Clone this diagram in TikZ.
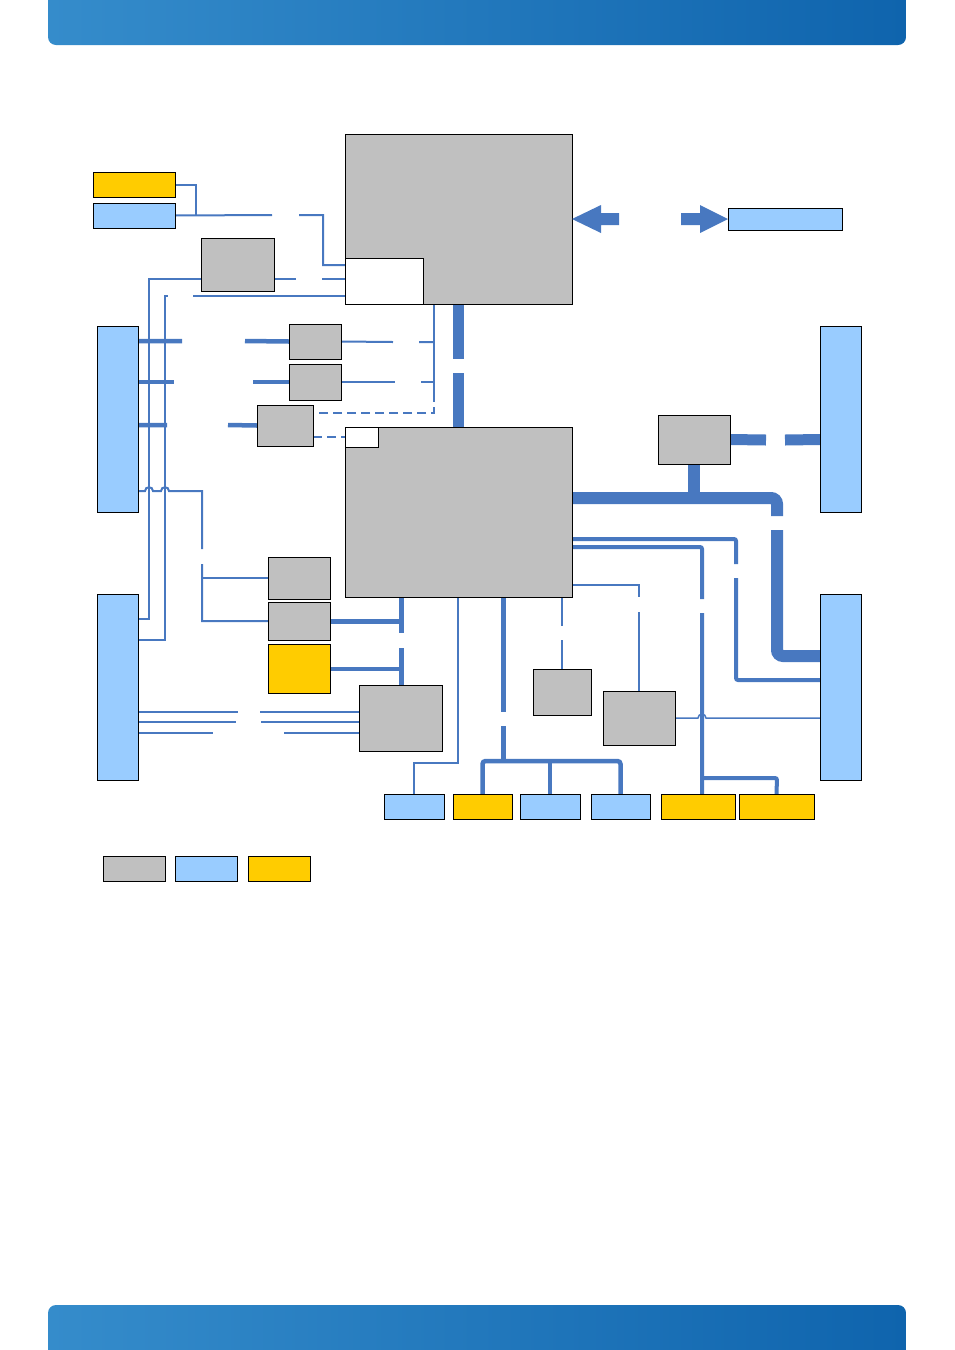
\documentclass[tikz,border=0pt]{standalone}
\usetikzlibrary{backgrounds}
\definecolor{lb}{HTML}{4878C0}
\definecolor{gr}{HTML}{C0C0C0}
\definecolor{sky}{HTML}{99CCFF}
\definecolor{yel}{HTML}{FFCC00}
\definecolor{hdl}{HTML}{358CCB}
\definecolor{hdr}{HTML}{0F64AD}
\newcommand\bx[6]{\node[#2, minimum width={#5pt-#3pt}, minimum height={#6pt-#4pt}] (#1) at (#3,#4) {};}
\tikzset{
  box/.style={draw=black, line width=1pt, inner sep=0pt, outer sep=0pt, anchor=north west},
  gbox/.style={box, fill=gr},
  bbox/.style={box, fill=sky},
  ybox/.style={box, fill=yel},
  wbox/.style={box, fill=white},
  ln/.style={draw=lb, line width=#1},
  ln/.default=2pt,
  dsh/.style={draw=lb, line width=2pt, dash pattern=on 9pt off 5pt},
}
\begin{document}
\begin{tikzpicture}[x=1pt,y=-1pt]
\useasboundingbox (0,0) rectangle (954,1350);
% header / footer bands
\shade[left color=hdl, right color=hdr, rounded corners=8pt] (48,-20) rectangle (906,45);
\shade[left color=hdl, right color=hdr, rounded corners=8pt] (48,1305) rectangle (906,1370);
% boxes
\bx{cpu}{gbox}{345}{134}{572}{304}
\bx{cpuw}{wbox}{345}{258}{423}{304}
\bx{yl}{ybox}{93}{172}{175}{197}
\bx{bl}{bbox}{93}{203}{175}{228}
\bx{ga}{gbox}{201}{238}{274}{291}
\bx{lca}{bbox}{97}{326}{138}{512}
\bx{lcb}{bbox}{97}{594}{138}{780}
\bx{gb}{gbox}{289}{324}{341}{359}
\bx{gc}{gbox}{289}{364}{341}{400}
\bx{gd}{gbox}{257}{405}{313}{446}
\bx{chip}{gbox}{345}{427}{572}{597}
\bx{chipw}{wbox}{345}{427}{378}{447}
\bx{ge}{gbox}{658}{415}{730}{464}
\bx{rca}{bbox}{820}{326}{861}{512}
\bx{rcb}{bbox}{820}{594}{861}{780}
\bx{gf}{gbox}{268}{557}{330}{599}
\bx{gg}{gbox}{268}{602}{330}{640}
\bx{yh}{ybox}{268}{644}{330}{693}
\bx{gi}{gbox}{359}{685}{442}{751}
\bx{gj}{gbox}{533}{669}{591}{715}
\bx{gk}{gbox}{603}{691}{675}{745}
\bx{ba}{bbox}{384}{794}{444}{819}
\bx{ya}{ybox}{453}{794}{512}{819}
\bx{bb}{bbox}{520}{794}{580}{819}
\bx{bc}{bbox}{591}{794}{650}{819}
\bx{yb}{ybox}{661}{794}{735}{819}
\bx{yc}{ybox}{739}{794}{814}{819}
\bx{tr}{bbox}{728}{208}{842}{230}
\bx{lga}{gbox}{103}{856}{165}{881}
\bx{lgb}{bbox}{175}{856}{237}{881}
\bx{lgc}{ybox}{248}{856}{310}{881}
% arrows
\fill[lb] (cpu.east |- 0,219) -- (601,205) -- (601,213) -- (619,213) -- (619,225) -- (601,225) -- (601,233) -- cycle;
\fill[lb] (681,213) -- (700,213) -- (700,205) -- (tr.west |- 0,219) -- (700,233) -- (700,225) -- (681,225) -- cycle;
\begin{scope}[on background layer]
% top-left
\draw[ln] (yl.east) -| (196,215);
\draw[ln] (bl.east) -- (272,215) (299,215) -- (323,215) -- (323,265) -- (cpuw.west |- 0,265);
\draw[ln] (ga.east |- 0,279) -- (296,279) (322,279) -- (cpuw.west |- 0,279);
\draw[ln=2.5pt] (lcb.east |- 0,619) -- (149,619) -- (149,279) -- (ga.west |- 0,279);
\draw[ln=2.5pt] (lcb.east |- 0,640) -- (165,640) -- (165,296) -- (168,296) (193,296) -- (cpuw.west |- 0,296);
% stubs to gb gc gd
\draw[ln=4.5pt] (lca.east |- 0,341) -- (182,341) (245,341) -- (gb.west);
\draw[ln=4.5pt] (lca.east |- 0,382) -- (174,382) (253,382) -- (gc.west);
\draw[ln=4.5pt] (lca.east |- 0,425) -- (167,425) (228,425) -- (gd.west);
\draw[ln] (gb.east) -- (393,342) (419,342) -- (434,342);
\draw[ln] (gc.east) -- (395,382) (421,382) -- (434,382);
\draw[ln] (cpu.south -| 434,0) -- (434,393);
\draw[dsh] (434,393) -- (434,413) -- (gd.east |- 0,413);
\draw[dsh] (gd.east |- chipw.west) -- (chipw.west);
% cpu - chipset
\draw[ln=11pt] (cpu.south -| 458,0) -- (458,359) (458,373) -- (chip.north -| 458,0);
% line with hops
\draw[ln] (lca.east |- 0,491) -- (145,491) .. controls (145,486) and (153,486) .. (153,491) -- (161,491) .. controls (161,486) and (169,486) .. (169,491) -- (202,491) -- (202,549) (202,564) -- (202,621) -- (gg.west |- 0,621);
\draw[ln] (202,578) -- (gf.west);
% lcb to gi
\draw[ln] (lcb.east |- 0,712) -- (238,712) (260,712) -- (gi.west |- 0,712);
\draw[ln] (lcb.east |- 0,722) -- (236,722) (261,722) -- (gi.west |- 0,722);
\draw[ln] (lcb.east |- 0,733) -- (213,733) (284,733) -- (gi.west |- 0,733);
% chip to gg, yh, gi
\draw[ln=5pt] (chip.south -| 401,0) -- (401,633);
\draw[ln=5pt] (gg.east |- 0,621) -- (401,621);
\draw[ln=4.5pt] (yh.east |- 0,669) -- (401,669);
\draw[ln=5pt] (401,648) -- (gi.north -| 401,0);
% thin to ba
\draw[ln=1.5pt] (chip.south -| 458,0) -- (458,763) -- (414,763) -- (ba.north);
% bottom bus
\draw[ln=5pt] (chip.south -| 503,0) -- (503,712) (503,726) -- (503,761);
\draw[ln=4.5pt, rounded corners=3pt] (ya.north) |- (bc.north |- 0,761) -- (bc.north);
\draw[ln=4.5pt] (550,761) -- (bb.north);
% gj, gk
\draw[ln] (chip.south -| 562,0) -- (562,626) (562,640) -- (gj.north);
\draw[ln] (chip.east |- 0,585) -- (639,585) -- (639,597) (639,612) -- (gk.north);
% right side
\draw[ln=4pt, rounded corners=2pt] (chip.east |- 0,547) -- (702,547) -- (702,599) (702,613) -- (yb.north -| 702,0);
\draw[ln=4pt, rounded corners=2pt] (702,778) -- (777,778) -- (yc.north);
\draw[ln=4pt, rounded corners=2pt] (chip.east |- 0,539) -- (736,539) -- (736,564) (736,578) -- (736,680) -- (rcb.west |- 0,680);
\draw[ln=12pt, rounded corners=6pt] (chip.east |- 0,498) -- (777,498) -- (777,516) (777,530) -- (777,656) -- (rcb.west |- 0,656);
\draw[ln=12pt] (ge.south) -- (ge.south |- 0,498);
\draw[ln=11pt] (ge.east) -- (766,440) (785,440) -- (rca.west |- ge.east);
\draw[ln=1.5pt] (gk.east |- 0,718) -- (698,718) .. controls (698,713) and (706,713) .. (706,718) -- (rcb.west |- 0,718);
\end{scope}
\end{tikzpicture}
\end{document}
